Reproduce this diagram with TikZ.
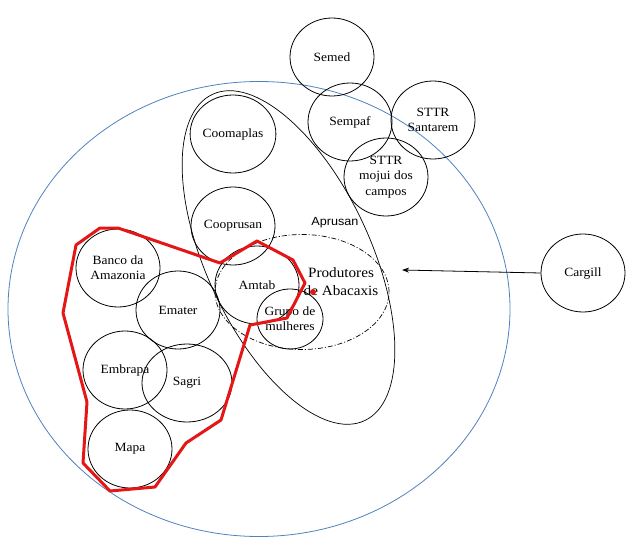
\documentclass[tikz,border=0pt]{standalone}
\usepackage{fontspec}
\setmainfont{Liberation Serif}[FakeStretch=1.07]
\setsansfont{Liberation Sans}[FakeStretch=1.07]
\usetikzlibrary{shapes.geometric,arrows.meta}
\definecolor{bluering}{RGB}{79,129,189}
\definecolor{redline}{RGB}{228,22,22}
\begin{document}
\begin{tikzpicture}[x=1pt,y=-1pt,
  org/.style={ellipse,draw,line width=0.8pt,inner sep=0pt,minimum width=84pt,minimum height=78pt,align=center,font=\fontsize{12.6}{15}\selectfont},
  small/.style={minimum width=66pt,minimum height=60pt,inner xsep=-4pt},
  lbl/.style={align=center,inner sep=0pt,font=\fontsize{12.6}{15}\selectfont},
  bigring/.style={ellipse,draw=bluering,line width=0.8pt,inner sep=0pt},
  group/.style={ellipse,draw,line width=0.7pt,inner sep=0pt},
  dashdotline/.style={dash pattern=on 5pt off 2pt on 1pt off 2pt}]
\useasboundingbox (0,0) rectangle (628,548);

% territory
\node[bigring,minimum width=502pt,minimum height=455pt] (territorio) at (259,309) {};

% Aprusan (rotated ellipse)
\node[group,rotate=-65,minimum width=360pt,minimum height=164pt] (aprusan) at (288.5,257.5) {};
\node[lbl,font=\sffamily\fontsize{11.8}{14}\selectfont] (aprusanlbl) at (335,223) {Aprusan};

% producers (dash-dot)
\node[group,dashdotline,minimum width=174pt,minimum height=115pt] (produtores) at (302,292) {};

% organisations
\node[org] (semed) at (332,57) {Semed};
\node[org] (sempaf) at (350,122) {Sempaf};
\node[org] (santarem) at (433,120) {STTR\\Santarem};
\node[org,font=\fontsize{12.6}{15.8}\selectfont,inner xsep=-2pt] (mojui) at (386,177) {STTR\\mojui dos\\campos};
\node[org] (coomaplas) at (233,134) {Coomaplas};
\node[org] (cooprusan) at (233,226) {Cooprusan};
\node[org] (amtab) at (257,285) {Amtab};
\node[org,small] (grupo) at (290,319) {Grupo de\\mulheres};
\node[org] (banco) at (118,268) {Banco da\\Amazonia};
\node[org] (emater) at (178,310) {Emater};
\node[org] (embrapa) at (125,370) {Embrapa};
\node[org,minimum width=90pt] (sagri) at (187,383) {Sagri};
\node[org] (mapa) at (130,449) {Mapa};
\node[org] (cargill) at (583,273) {Cargill};

\node[lbl,font=\fontsize{14.2}{18}\selectfont] (prodlbl) at (341,282) {Produtores\\de Abacaxis};

% arrow from Cargill
\coordinate (tip) at (402,270);
\draw[-{Stealth[length=7pt,width=5pt]},line width=0.8pt] (cargill.west) -- (tip);

% red boundary
\draw[redline,line width=3pt,line join=round]
  (100,228) -- (118,228) -- (220,263) -- (257,241) -- (293,260) -- (305,283)
  -- (287,318) -- (250,325) -- (221,420) -- (186,443) -- (155,487) -- (110,491)
  -- (83,463) -- (87,402) -- (63,313) -- (76,245) -- cycle;
\fill[redline] (313,292) circle [radius=3];
\end{tikzpicture}
\end{document}
